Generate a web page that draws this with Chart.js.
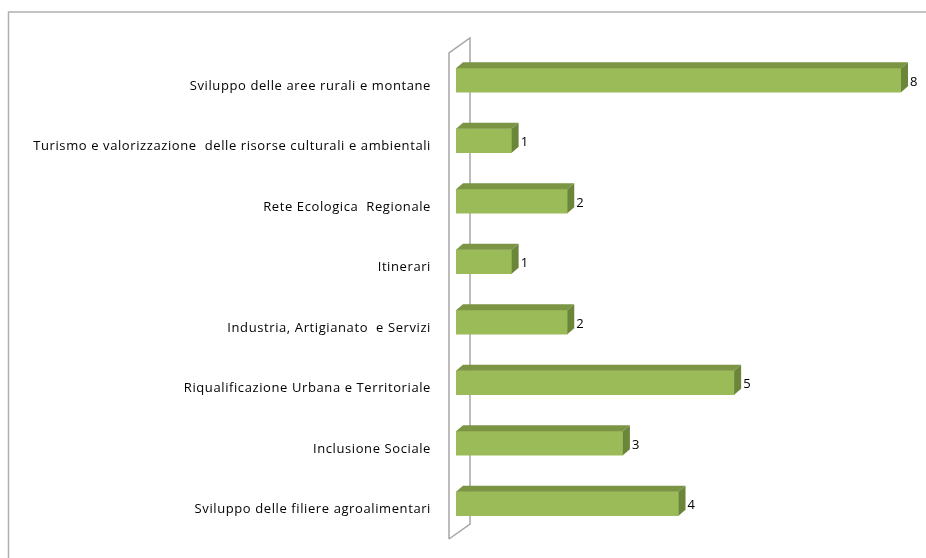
<!DOCTYPE html>
<html>
<head>
<meta charset="utf-8">
<script src="https://cdn.jsdelivr.net/npm/chart.js@4"></script>
<style>
  body { margin: 0; background: #fff; }
  #wrap { width: 926px; height: 558px; }
</style>
</head>
<body>
<div id="wrap"><canvas id="chart" width="926" height="558"></canvas></div>
<script>
// categorie e valori (dall'alto verso il basso)
const categories = [
    'Sviluppo delle aree rurali e montane',
    'Turismo e valorizzazione  delle risorse culturali e ambientali',
    'Rete Ecologica  Regionale',
    'Itinerari',
    'Industria, Artigianato  e Servizi',
    'Riqualificazione Urbana e Territoriale',
    'Inclusione Sociale',
    'Sviluppo delle filiere agroalimentari'
];
const values = [8, 1, 2, 1, 2, 5, 3, 4];
const xMax = 8;

const FONT = '"Open Sans", sans-serif';
const DEPTH_X = 7, DEPTH_Y = -6;

// cornice grigia + parete 3D a sinistra
const wallPlugin = {
    id: 'wall',
    beforeDraw(chart) {
        const ctx = chart.ctx;
        const a = chart.chartArea;
        ctx.letterSpacing = '0.6px'; // testo un po' più largo, come in Excel
        ctx.save();
        ctx.strokeStyle = '#b0b0b0';
        ctx.lineWidth = 1.5;
        ctx.beginPath();
        ctx.moveTo(8.5, 558);
        ctx.lineTo(8.5, 12);
        ctx.lineTo(926, 12);
        ctx.stroke();

        // parete
        const fx = a.left - 7, fTop = a.top + 3, fBot = a.bottom + 5;
        const dx = 21, dy = -15;
        ctx.strokeStyle = '#a6a6a6';
        ctx.lineWidth = 1.5;
        ctx.beginPath();
        ctx.moveTo(fx, fBot);
        ctx.lineTo(fx, fTop);
        ctx.lineTo(fx + dx, fTop + dy);
        ctx.lineTo(fx + dx, fBot + dy);
        ctx.lineTo(fx, fBot);
        ctx.stroke();
        ctx.restore();
    }
};

// facce superiori e laterali delle barre + etichette dei valori
const bar3dPlugin = {
    id: 'bar3d',
    afterDatasetsDraw(chart) {
        const ctx = chart.ctx;
        const meta = chart.getDatasetMeta(0);
        ctx.save();
        meta.data.forEach((bar, i) => {
            const p = bar.getProps(['x', 'y', 'base', 'height'], true);
            const top = p.y - p.height / 2;
            const bottom = p.y + p.height / 2;

            // faccia superiore
            ctx.fillStyle = '#7b9545';
            ctx.beginPath();
            ctx.moveTo(p.base, top);
            ctx.lineTo(p.base + DEPTH_X, top + DEPTH_Y);
            ctx.lineTo(p.x + DEPTH_X, top + DEPTH_Y);
            ctx.lineTo(p.x, top);
            ctx.closePath();
            ctx.fill();

            // faccia laterale
            ctx.fillStyle = '#6b8539';
            ctx.beginPath();
            ctx.moveTo(p.x, top);
            ctx.lineTo(p.x + DEPTH_X, top + DEPTH_Y);
            ctx.lineTo(p.x + DEPTH_X, bottom + DEPTH_Y);
            ctx.lineTo(p.x, bottom);
            ctx.closePath();
            ctx.fill();

            // valore
            ctx.fillStyle = '#000';
            ctx.font = '13px ' + FONT;
            ctx.textAlign = 'left';
            ctx.textBaseline = 'middle';
            ctx.fillText(String(values[i]), p.x + DEPTH_X + 2, p.y + 2);
        });
        ctx.restore();
    }
};

new Chart(document.getElementById('chart'), {
    type: 'bar',
    data: {
        labels: categories,
        datasets: [{
            data: values,
            backgroundColor: '#9bbb59',
            borderWidth: 0,
            barThickness: 24
        }]
    },
    options: {
        indexAxis: 'y',
        responsive: false,
        animation: false,
        layout: { padding: { left: 0, right: 25, top: 50, bottom: 24 } },
        plugins: {
            legend: { display: false },
            tooltip: { enabled: false }
        },
        scales: {
            x: { display: false, min: 0, max: xMax },
            y: {
                // tacche invisibili: servono solo a distanziare le etichette
                grid: {
                    display: true,
                    drawOnChartArea: false,
                    drawTicks: true,
                    tickLength: 25,
                    color: 'rgba(0,0,0,0)'
                },
                border: { display: false },
                afterFit(scale) { scale.width = 456; },
                ticks: {
                    color: '#000',
                    padding: 0,
                    labelOffset: 6,
                    font: { family: FONT, size: 13 }
                }
            }
        }
    },
    plugins: [wallPlugin, bar3dPlugin]
});
</script>
</body>
</html>
